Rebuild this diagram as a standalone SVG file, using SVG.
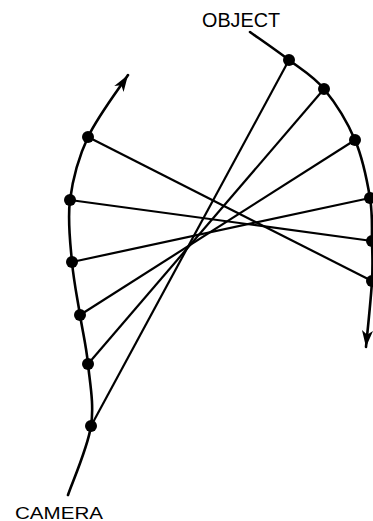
<svg xmlns="http://www.w3.org/2000/svg" width="373" height="521" viewBox="0 0 373 521">
<style>
.track{fill:none;stroke:#000;stroke-width:2.6;stroke-linecap:round}
.ray{fill:none;stroke:#000;stroke-width:2.2}
.dot{fill:#000}
.lbl{font-family:"Liberation Sans",Arial,sans-serif;fill:#000}
</style>
<defs>
<marker id="ah" markerUnits="userSpaceOnUse" markerWidth="20" markerHeight="20" viewBox="-16 -8 18 16" refX="0" refY="0" orient="auto">
<path d="M0,0 L-15,-5 L-11,0 L-15,5 Z" fill="#000"/>
</marker>
</defs>
<rect width="373" height="521" fill="#fff"/>
<g id="connectors">
<line class="ray" x1="88" y1="137" x2="372" y2="281"/>
<line class="ray" x1="70" y1="200" x2="372" y2="241"/>
<line class="ray" x1="72" y1="262" x2="370" y2="198"/>
<line class="ray" x1="80" y1="315" x2="355" y2="140"/>
<line class="ray" x1="88" y1="364" x2="324" y2="89"/>
<line class="ray" x1="91" y1="426" x2="289" y2="60"/>
</g>
<g id="camera-track">
<path class="track" marker-end="url(#ah)" d="M68,495 C71.8,483.5 87.7,447.8 91,426 C94.3,404.2 89.8,382.5 88,364 C86.2,345.5 82.7,332 80,315 C77.3,298 73.7,281.2 72,262 C70.3,242.8 67.3,220.8 70,200 C72.7,179.2 78.3,157.8 88,137 C97.7,116.2 121.3,85.3 128,75"/>
<text class="lbl" x="15" y="519" font-size="16" textLength="88" lengthAdjust="spacingAndGlyphs">CAMERA</text>
</g>
<g id="object-track">
<path class="track" marker-end="url(#ah)" d="M250,32 C256.5,36.7 276.7,50.5 289,60 C301.3,69.5 313,75.7 324,89 C335,102.3 347.3,121.8 355,140 C362.7,158.2 367.2,181.2 370,198 C372.8,214.8 371.7,227.2 372,241 C372.3,254.8 373,263.3 372,281 C371,298.7 367,336 366,347"/>
<text class="lbl" x="202" y="27" font-size="19.5" textLength="78" lengthAdjust="spacingAndGlyphs">OBJECT</text>
</g>
<g id="camera-1"><circle class="dot" cx="88" cy="137" r="6"/></g>
<g id="camera-2"><circle class="dot" cx="70" cy="200" r="6"/></g>
<g id="camera-3"><circle class="dot" cx="72" cy="262" r="6"/></g>
<g id="camera-4"><circle class="dot" cx="80" cy="315" r="6"/></g>
<g id="camera-5"><circle class="dot" cx="88" cy="364" r="6"/></g>
<g id="camera-6"><circle class="dot" cx="91" cy="426" r="6"/></g>
<g id="object-1"><circle class="dot" cx="289" cy="60" r="6"/></g>
<g id="object-2"><circle class="dot" cx="324" cy="89" r="6"/></g>
<g id="object-3"><circle class="dot" cx="355" cy="140" r="6"/></g>
<g id="object-4"><circle class="dot" cx="370" cy="198" r="6"/></g>
<g id="object-5"><circle class="dot" cx="372" cy="241" r="6"/></g>
<g id="object-6"><circle class="dot" cx="372" cy="281" r="6"/></g>
</svg>
